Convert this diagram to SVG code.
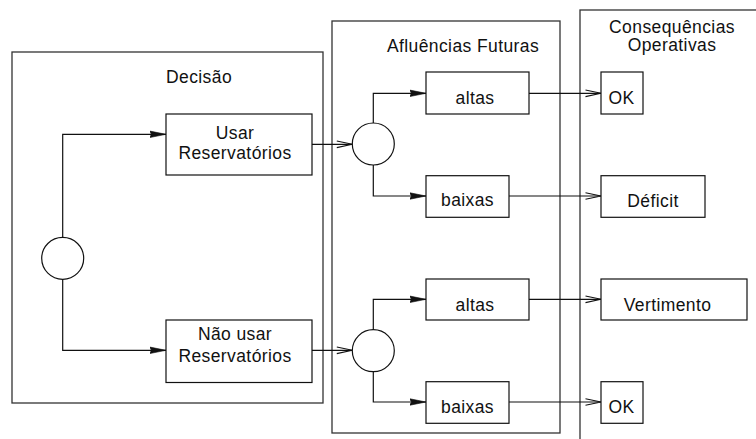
<svg xmlns="http://www.w3.org/2000/svg" width="756" height="439" viewBox="0 0 756 439">
<style>
text{font-family:"Liberation Sans",Arial,sans-serif;font-size:17.5px;letter-spacing:0.4px;fill:#111;text-anchor:middle}
.frame{fill:none;stroke:#333;stroke-width:1.3}
.node{fill:#fff;stroke:#111;stroke-width:1.2}
.conn{fill:none;stroke:#111;stroke-width:1.2}
.f{marker-end:url(#filled)}
.o{marker-end:url(#open)}
</style>
<defs>
<marker id="filled" markerUnits="userSpaceOnUse" viewBox="0 -4.5 17 9" markerWidth="17" markerHeight="9" refX="16.5" refY="0" orient="auto">
<path d="M0,-3.3 L16.5,0 L0,3.3 L2,0 z" fill="#111" stroke="#111" stroke-width="0.6"/>
</marker>
<marker id="open" markerUnits="userSpaceOnUse" viewBox="0 -4.5 17 9" markerWidth="17" markerHeight="9" refX="16" refY="0" orient="auto">
<path d="M0.5,-3.3 L16,0 L0.5,3.3" fill="none" stroke="#111" stroke-width="1.1"/>
</marker>
</defs>

<g id="frame-decisao">
<rect class="frame" x="12" y="52" width="311" height="351"/>
<text x="199" y="83">Decisão</text>
</g>
<g id="frame-afluencias">
<rect class="frame" x="332" y="21" width="228" height="412"/>
<text x="463" y="52">Afluências Futuras</text>
</g>
<g id="frame-consequencias">
<rect class="frame" x="580" y="10" width="200" height="440"/>
<text x="672" y="32.5">Consequências</text>
<text x="672" y="51">Operativas</text>
</g>

<g id="connectors">
<path class="conn f" d="M62.7,237.3 V134.3 H166"/>
<path class="conn f" d="M62.7,279.3 V350.3 H166"/>
<path class="conn o" d="M312,144.3 H352.3"/>
<path class="conn o" d="M312,350.3 H352.3"/>
<path class="conn f" d="M373.3,123 V93.3 H426"/>
<path class="conn f" d="M373.3,165 V196 H426"/>
<path class="conn f" d="M373.3,329.7 V299.3 H426"/>
<path class="conn f" d="M373.3,371.7 V402 H426"/>
<path class="conn o" d="M529,93.3 H601"/>
<path class="conn o" d="M509,196 H601"/>
<path class="conn o" d="M529,299.3 H601"/>
<path class="conn o" d="M509,402 H601"/>
</g>

<g id="decision-node">
<circle class="node" cx="62.7" cy="258.3" r="21"/>
</g>
<g id="usar">
<rect class="node" x="166" y="114" width="146" height="61"/>
<text x="235" y="139">Usar</text>
<text x="235" y="159">Reservatórios</text>
</g>
<g id="nao-usar">
<rect class="node" x="166" y="320" width="146" height="62.5"/>
<text x="235" y="340">Não usar</text>
<text x="235" y="361.5">Reservatórios</text>
</g>

<g id="chance-1">
<circle class="node" cx="373.3" cy="144" r="21"/>
</g>
<g id="altas-1">
<rect class="node" x="426" y="72" width="103" height="42"/>
<text x="475" y="104">altas</text>
</g>
<g id="baixas-1">
<rect class="node" x="426" y="175.7" width="83" height="41.6"/>
<text x="467.5" y="206">baixas</text>
</g>

<g id="chance-2">
<circle class="node" cx="373.3" cy="350.7" r="21"/>
</g>
<g id="altas-2">
<rect class="node" x="426" y="279" width="103" height="41"/>
<text x="475" y="310.5">altas</text>
</g>
<g id="baixas-2">
<rect class="node" x="426" y="381.7" width="83" height="41.6"/>
<text x="467.5" y="413">baixas</text>
</g>

<g id="ok-1">
<rect class="node" x="601" y="72" width="42" height="42"/>
<text x="621.5" y="103.5">OK</text>
</g>
<g id="deficit">
<rect class="node" x="601" y="175.7" width="104" height="41.6"/>
<text x="653" y="207">Déficit</text>
</g>
<g id="vertimento">
<rect class="node" x="601" y="279" width="146" height="41"/>
<text x="667.5" y="310.5">Vertimento</text>
</g>
<g id="ok-2">
<rect class="node" x="601" y="381.7" width="42" height="41.6"/>
<text x="621.5" y="413">OK</text>
</g>
</svg>
